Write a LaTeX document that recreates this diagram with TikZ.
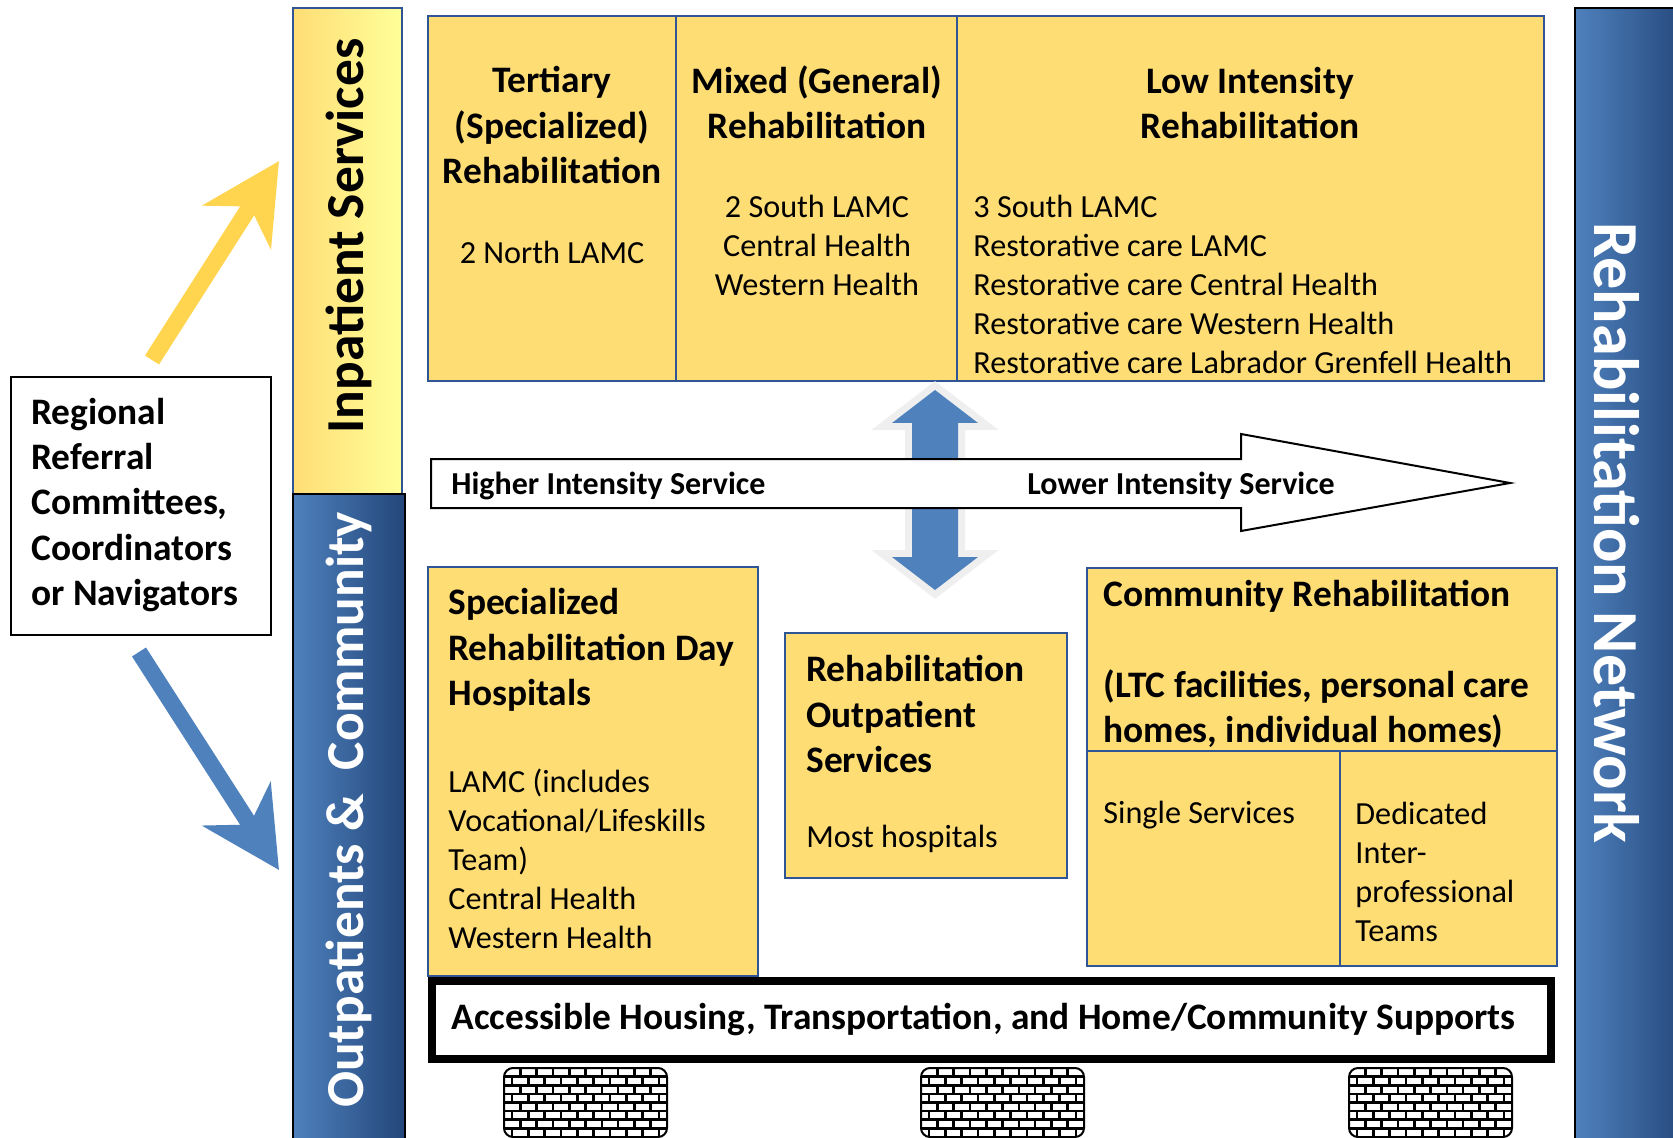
\documentclass[tikz,border=0pt]{standalone}
\usepackage{fontspec}
\setmainfont{Carlito}
\usetikzlibrary{arrows.meta}

\definecolor{cellfill}{RGB}{255,221,117}
\definecolor{cellline}{HTML}{2F5597}
\definecolor{sky}{HTML}{4F81BD}
\definecolor{navy}{HTML}{23467A}
\definecolor{gold}{HTML}{FFD44F}
\definecolor{paleyellow}{HTML}{FFFF99}
\definecolor{glow}{HTML}{EFEFEF}

\begin{document}
\begin{tikzpicture}[x=0.5pt,y=-0.5pt,
	cell/.style={fill=cellfill,draw=cellline,line width=0.9pt},
	head/.style={font=\bfseries\fontsize{18.7}{22.7}\selectfont,inner sep=0pt},
	body/.style={font=\fontsize{16.1}{19.5}\selectfont,inner sep=0pt},
	bar/.style={font=\bfseries\fontsize{26.7}{30}\selectfont,inner sep=0pt}]

	\useasboundingbox (0,0) rectangle (1673,1138);

	% side bars
	\draw[cellline,line width=0.8pt,left color=cellfill,right color=paleyellow] (293,8) rectangle (402,494);
	\draw[line width=0.8pt,left color=sky,right color=navy] (293,494) rectangle (405,1150);
	\draw[line width=0.8pt,left color=sky,right color=navy] (1575,8) rectangle (1690,1150);
	\node[bar,rotate=90] (inpat) at (349,236) {Inpatient Services};
	\node[bar,rotate=90,white] (outpat) at (349,810) {Outpatients \& \ Community};
	\node[bar,rotate=-90,white,font=\bfseries\fontsize{32.1}{34}\selectfont] (network) at (1617,533) {Rehabilitation Network};

	% referral box and its two arrows
	\draw[line width=1pt] (11,377) rectangle (271,635);
	\node[head,anchor=west,align=left] (referral) at (31,505) {Regional\\Referral\\Committees,\\Coordinators\\or Navigators};
	\coordinate (upfrom) at (152,360);
	\coordinate (upto) at (279,161);
	\coordinate (downfrom) at (139,652);
	\coordinate (downto) at (279,870);
	\draw[gold,line width=8.3pt,-{Stealth[length=39pt,width=40pt,inset=12pt]}] (upfrom) -- (upto);
	\draw[sky,line width=8.3pt,-{Stealth[length=39pt,width=40pt,inset=12pt]}] (downfrom) -- (downto);

	% inpatient table
	\draw[cell] (428,16) rectangle (1544,381);
	\draw[cellline,line width=0.9pt] (676,16) -- (676,381) (957,16) -- (957,381);
	\node[head,align=center] (tertiary) at (552,125) {Tertiary\\(Specialized)\\Rehabilitation};
	\node[body] (north) at (552,252) {2 North LAMC};
	\node[head,align=center] (mixed) at (817,102) {Mixed (General)\\Rehabilitation};
	\node[body,align=center] (mixedsites) at (817,245) {2 South LAMC\\Central Health\\Western Health};
	\node[head,align=center] (low) at (1250,103) {Low Intensity\\Rehabilitation};
	\node[body,align=left,anchor=west] (lowsites) at (973,284) {3 South LAMC\\Restorative care LAMC\\Restorative care Central Health\\Restorative care Western Health\\Restorative care Labrador Grenfell Health};

	% up/down arrow behind the intensity arrow
	\draw[glow,line width=7pt,fill=glow] (935,390) -- (978,423) -- (958,423) -- (958,557) -- (978,557) -- (935,590)
		-- (892,557) -- (912,557) -- (912,423) -- (892,423) -- cycle;
	\fill[sky] (935,390) -- (978,423) -- (958,423) -- (958,557) -- (978,557) -- (935,590)
		-- (892,557) -- (912,557) -- (912,423) -- (892,423) -- cycle;

	% intensity arrow
	\draw[line width=1pt,fill=white] (431,459) -- (1241,459) -- (1241,434) -- (1510,483) -- (1241,531) -- (1241,508) -- (431,508) -- cycle;
	\node[head,font=\bfseries\fontsize{16}{19}\selectfont,anchor=west] (higher) at (451,486) {Higher Intensity Service};
	\node[head,font=\bfseries\fontsize{16}{19}\selectfont,anchor=west] (lower) at (1027,486) {Lower Intensity Service};

	% outpatient and community boxes
	\draw[cell] (428,567) rectangle (758,976);
	\node[head,align=left,anchor=west] (dayhosp) at (448,650) {Specialized\\Rehabilitation Day\\Hospitals};
	\node[body,align=left,anchor=west] (daysites) at (448,859) {LAMC (includes\\Vocational/Lifeskills\\Team)\\Central Health\\Western Health};

	\draw[cell] (785,633) rectangle (1067,878);
	\node[head,align=left,anchor=west] (outserv) at (806,714) {Rehabilitation\\Outpatient\\Services};
	\node[body,anchor=west] (most) at (806,839) {Most hospitals};

	\draw[cell] (1087,568) rectangle (1557,966);
	\draw[cellline,line width=0.9pt] (1087,751) -- (1557,751) (1340,751) -- (1340,966);
	\node[head,align=left,anchor=west] (community) at (1103,664) {Community Rehabilitation\\[22.7pt](LTC facilities, personal care\\homes, individual homes)};
	\node[body,anchor=west] (single) at (1103,815) {Single Services};
	\node[body,align=left,anchor=west] (teams) at (1355,872) {Dedicated\\Inter-\\professional\\Teams};

	% supports bar
	\draw[line width=4.3pt,fill=white] (432,981) rectangle (1551,1059);
	\node[head,anchor=west] (supports) at (451,1020) {Accessible Housing, Transportation, and Home/Community Supports};

	% brick pillars
	\foreach \bx in {504,921,1349}{
		\begin{scope}
			\clip[rounded corners=4.5pt] (\bx,1068) rectangle ++(163,69);
			\fill[black] (\bx,1068) rectangle ++(163,69);
			\foreach \r in {0,...,7}
				\foreach \c in {-1,...,10}
					\fill[white] ({\bx+\c*16.3+mod(\r,2)*8.15+1.3},{1068+\r*8.6+1.3}) rectangle ++(13.7,6);
		\end{scope}
		\draw[line width=1pt,rounded corners=4.5pt] (\bx,1068) rectangle ++(163,69);
	}
\end{tikzpicture}
\end{document}
